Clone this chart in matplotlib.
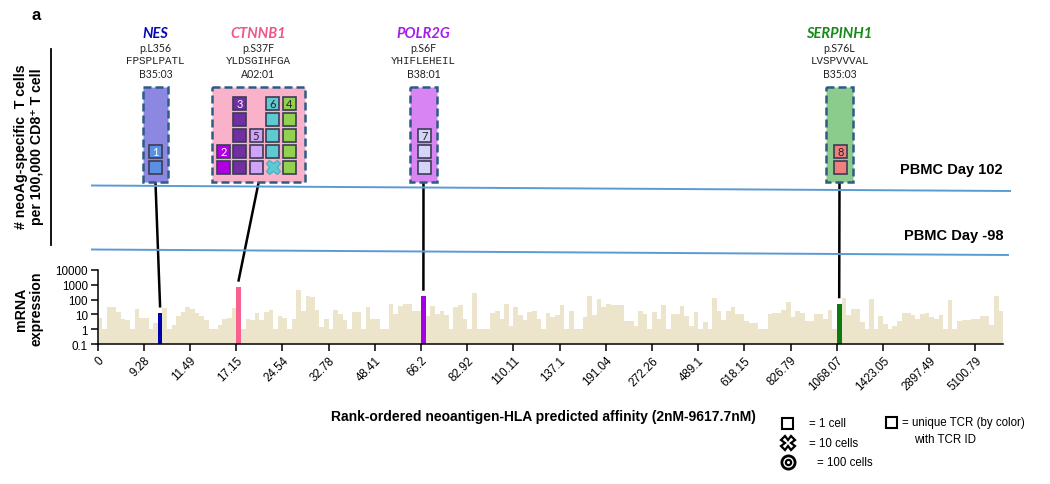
import matplotlib
matplotlib.use('Agg')
import matplotlib.pyplot as plt
from matplotlib.patches import Rectangle
from matplotlib.ticker import NullLocator
import numpy as np

# ---------------- data ----------------
expr = [6, 1, 30, 30, 15, 5, 4, 1, 25, 6, 6, 1, 2.5,
        12,
        27, 1, 2, 8, 15, 30, 22, 12, 8, 4, 1, 1, 2, 5, 6, 28,
        650,
        1, 5, 4, 12, 4, 14, 20, 1, 8, 6, 1, 5,
        460,
        18, 170, 150, 20, 1.5, 5, 1, 20, 10, 4,
        1,
        14, 14, 1, 31, 4.6, 4.6, 1, 1, 51, 11, 36, 47, 47, 18, 18,
        160,
        8, 35, 11, 18, 9, 1, 30, 40, 5, 1,
        290, 1, 1, 1, 13, 18, 4.6, 51, 1.8, 31, 8.6, 4, 14, 18, 4.6, 1, 13, 6.6, 9,
        40, 1, 16, 1, 1, 6.6, 166, 8.6, 115, 31, 51, 45, 40, 45, 3.5, 3.5, 1.8, 18, 11, 1,
        14, 4.6, 45, 1, 10, 10, 36, 8, 1.8, 14, 1, 3, 1, 125, 18, 4, 18, 31, 10, 10,
        3.5, 2.8, 2.8, 1, 1, 10, 13, 13, 21, 65, 6.6, 16, 12, 3.5, 3.5, 10, 10, 4.6, 21, 1,
        50,
        125, 8.6, 24, 24, 3, 1, 115, 1, 8, 2.4, 1, 1.8, 3.5, 13, 13, 8.6, 4.6, 11, 13,
        6.6, 4.6, 8.6, 1, 100, 1, 3.5, 4, 4, 5, 5, 8, 8, 2, 160, 18]

tick_labels = ['0', '9.28', '11.49', '17.15', '24.54', '32.78', '48.41', '66.2',
               '82.92', '110.11', '137.1', '191.04', '272.26', '489.1', '618.15',
               '826.79', '1068.07', '1423.05', '2897.49', '5100.79']
ytick_vals = [0.1, 1, 10, 100, 1000, 10000]
ytick_labels = ['0.1', '1', '10', '100', '1000', '10000']

genes = ['NES', 'CTNNB1', 'POLR2G', 'SERPINH1']
gene_idx = [13, 30, 70, 160]
gene_bar_colors = ['#0000A8', '#F7618F', '#A400E4', '#0E7A0E']
gene_colors = ['#0A0AB4', '#F0558C', '#A41EEC', '#168A16']
mutations = ['p.L356', 'p.S37F', 'p.S6F', 'p.S76L']
peptides = ['FPSPLPATL', 'YLDSGIHFGA', 'YHIFLEHEIL', 'LVSPVVVAL']
hla = ['B35:03', 'A02:01', 'B38:01', 'B35:03']
box_fill = ['#8C88E2', '#F9B2CA', '#D884F2', '#8BCB8B']

# TCR clonotypes (in display column order)
tcr_gene = [0, 1, 1, 1, 1, 1, 2, 3]
tcr_id = [1, 2, 3, 5, 6, 4, 7, 8]
tcr_single = [2, 2, 5, 3, 4, 5, 3, 2]   # squares = 1 cell
tcr_ten = [0, 0, 0, 0, 1, 0, 0, 0]      # crosses = 10 cells
tcr_color = ['#5A8FE2', '#B000E2', '#7030A0', '#CFA3F7', '#5FC9D2', '#92D050', '#D4D4F8', '#F08080']
tcr_text = ['white', 'white', 'white', '#222222', '#222222', '#222222', '#222222', '#222222']

# ---------------- layout ----------------
W, H = 1050, 485
fig = plt.figure(figsize=(W / 100, H / 100), dpi=100)
SANS = ['Liberation Sans', 'DejaVu Sans']
SMALL = ['Lato', 'DejaVu Sans']

L, R, T, B = 97.7, 1003.2, 270.7, 345.3
ax = fig.add_axes([L / W, 1 - B / H, (R - L) / W, (B - T) / H])
n = len(expr)
x = np.arange(n)
cols = ['#ECE5CB'] * n
for gi, c in zip(gene_idx, gene_bar_colors):
    cols[gi] = c
ax.bar(x, np.array(expr) - 0.1, bottom=0.1, width=1, align='edge', color=cols, linewidth=0)
ax.set_yscale('log')
ax.set_ylim(0.1, 10000)
ax.set_xlim(0, n)
ax.set_yticks(ytick_vals)
ax.set_yticklabels(ytick_labels)
ax.yaxis.set_minor_locator(NullLocator())
ax.set_xticks(np.arange(0, n, 10))
ax.set_xticklabels(tick_labels, rotation=45, ha='right', rotation_mode='anchor')
for s in ['top', 'right']:
    ax.spines[s].set_visible(False)
for s in ['left', 'bottom']:
    ax.spines[s].set_linewidth(1.1)
ax.tick_params(axis='both', direction='out', length=5, width=1.1, labelsize=8.4, pad=2)
for lab in ax.get_xticklabels() + ax.get_yticklabels():
    lab.set_family(SANS)
ax.patch.set_alpha(0)

# overlay in pixel coordinates
ov = fig.add_axes([0, 0, 1, 1])
ov.set_xlim(0, W)
ov.set_ylim(H, 0)
ov.axis('off')

ov.text(36, 16, 'a', fontsize=12, fontweight='bold', family=SANS, ha='center', va='center')

# top y label + vertical line
ov.plot([50.5, 50.5], [50, 246], color='black', lw=1.3)
ov.text(29, 147, '# neoAg-specific  T cells\nper 100,000 CD8\u207a T cell', rotation=90,
        fontsize=10.2, fontweight='bold', family=SANS, ha='center', va='center',
        linespacing=1.15)
ov.text(29, 309, 'mRNA\nexpression', rotation=90, fontsize=10.2, fontweight='bold',
        family=SANS, ha='center', va='center', linespacing=1.15)

# PBMC lines
ov.plot([92, 1010], [186.5, 192], color='#5B9BD5', lw=1.4)
ov.plot([92, 1008], [250.5, 256], color='#5B9BD5', lw=1.4)
ov.text(1003, 170.5, 'PBMC Day 102', fontsize=10.5, fontweight='bold', family=SANS,
        ha='right', va='center')
ov.text(1003, 236, 'PBMC Day -98', fontsize=10.5, fontweight='bold', family=SANS,
        ha='right', va='center')

# gene boxes
box_lr = [(143, 168), (212, 305), (410, 437), (826, 853)]
col_centers = {0: [155.5], 1: [223.5, 239.5, 256, 272.5, 289], 2: [424.5], 3: [840.5]}
box_top, box_bot = 88, 183
sq = 13
pitch = 16
bottom_slot_top = 161.5

for g in range(len(genes)):
    l, r = box_lr[g]
    cx = (l + r) / 2
    ov.add_patch(Rectangle((l, box_top), r - l, box_bot - box_top, facecolor=box_fill[g],
                           edgecolor='#2D5C86', lw=1.8, linestyle=(0, (3.2, 1.6)), zorder=2))
    ov.text(cx, 34, genes[g], fontsize=10.5, fontweight='bold', fontstyle='italic',
            family=SMALL, color=gene_colors[g], ha='center', va='center')
    ov.text(cx, 49, mutations[g], fontsize=7.6, family=SMALL,
            color='#222222', ha='center', va='center')
    ov.text(cx, 61.5, peptides[g], fontsize=7.8, family=['Liberation Mono', 'DejaVu Sans Mono'],
            color='#222222', ha='center', va='center')
    ov.text(cx, 74, hla[g], fontsize=7.6, family=SMALL,
            color='#222222', ha='center', va='center')
    # connector to bar
    bx, by = ax.transData.transform((gene_idx[g] + 0.5, expr[gene_idx[g]]))
    by = H - by
    ov.plot([cx, bx], [box_bot + 1, by - 7], color='black', lw=1.8, zorder=1)

# TCR squares
col_counter = {g: 0 for g in range(len(genes))}
for k in range(len(tcr_id)):
    g = tcr_gene[k]
    ccx = col_centers[g][col_counter[g]]
    col_counter[g] += 1
    slot = 0
    for _ in range(tcr_ten[k]):
        yc = bottom_slot_top - slot * pitch + sq / 2
        ov.plot([ccx], [yc], marker='X', markersize=10.5, markerfacecolor=tcr_color[k],
                markeredgecolor='#3FB0BE', markeredgewidth=0.8, zorder=4)
        slot += 1
    top_y = None
    for _ in range(tcr_single[k]):
        yt = bottom_slot_top - slot * pitch
        ov.add_patch(Rectangle((ccx - sq / 2, yt), sq, sq, facecolor=tcr_color[k],
                               edgecolor='#3C3C55', lw=1.2, zorder=4))
        top_y = yt
        slot += 1
    ov.text(ccx, top_y + sq / 2 + 0.5, str(tcr_id[k]), fontsize=8, color=tcr_text[k],
            family=SMALL, ha='center', va='center', zorder=5)

# x label
ov.text(543, 417, 'Rank-ordered neoantigen-HLA predicted affinity (2nM-9617.7nM)',
        fontsize=10, fontweight='bold', family=SANS, ha='center', va='center')

# legend
ov.add_patch(Rectangle((782, 418.5), 11, 11, facecolor='white', edgecolor='black', lw=1.5))
ov.text(809, 424, '= 1 cell', fontsize=8.3, family=SANS, ha='left', va='center')
ov.plot([787.5], [444], marker='X', markersize=10, markerfacecolor='white',
        markeredgecolor='black', markeredgewidth=1.6)
ov.text(809, 444.5, '= 10 cells', fontsize=8.3, family=SANS, ha='left', va='center')
ov.plot([787.5], [462.5], marker='o', markersize=9.5, markerfacecolor='white',
        markeredgecolor='black', markeredgewidth=2)
ov.plot([787.5], [462.5], marker='o', markersize=3.8, markerfacecolor='white',
        markeredgecolor='black', markeredgewidth=1.6)
ov.text(817, 463, '= 100 cells', fontsize=8.3, family=SANS, ha='left', va='center')
ov.add_patch(Rectangle((885.5, 417.5), 11, 11, facecolor='white', edgecolor='black', lw=1.5))
ov.text(902, 423, '= unique TCR (by color)', fontsize=8.3, family=SANS, ha='left', va='center')
ov.text(914, 440, 'with TCR ID', fontsize=8.3, family=SANS, ha='left', va='center')

fig.savefig('out.png', dpi=100)
